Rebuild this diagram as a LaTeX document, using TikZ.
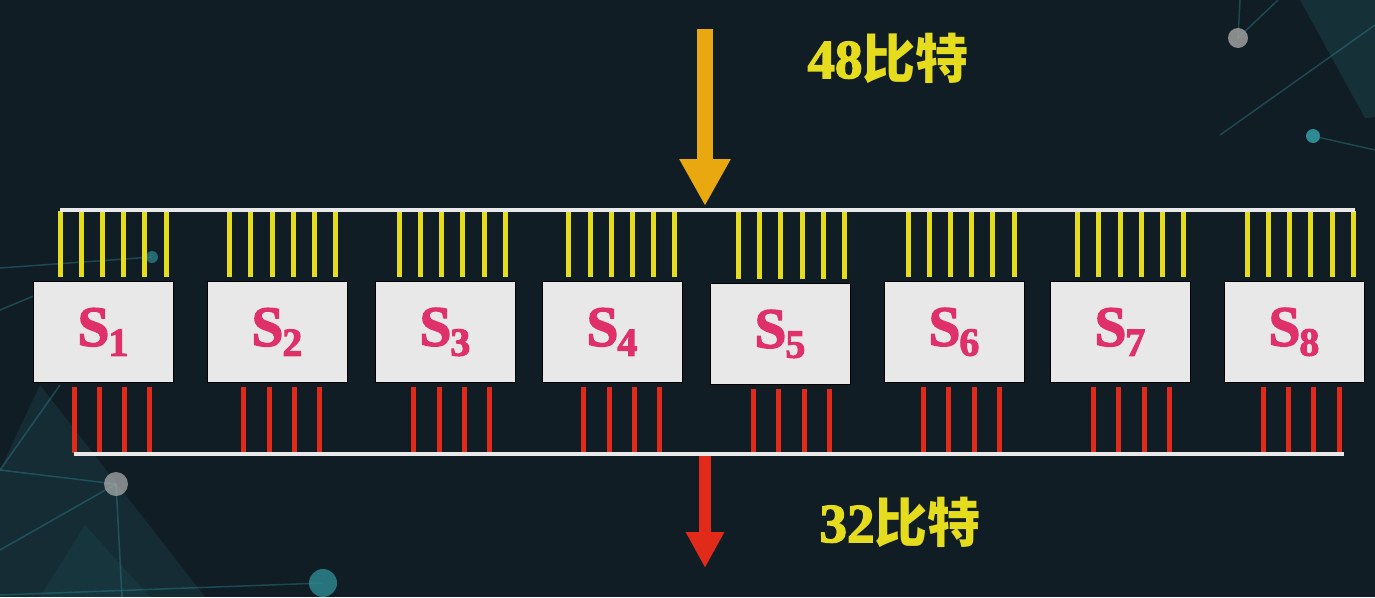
\documentclass[tikz,border=0pt]{standalone}
\usepackage{fontspec}
\setmainfont{Liberation Serif}
\newfontfamily\cjk{Noto Sans CJK SC}
\newfontfamily\bser{Liberation Serif Bold}[FakeBold=2.5]
\usetikzlibrary{arrows.meta,calc}
\definecolor{bgc}{HTML}{111D25}
\definecolor{boxc}{HTML}{E8E8E8}
\definecolor{yel}{HTML}{E6DC1E}
\definecolor{redl}{HTML}{E12A1A}
\definecolor{pinkc}{HTML}{E0306A}
\definecolor{oran}{HTML}{E9A810}
\definecolor{teal}{HTML}{2E8A93}
\tikzset{
  sbox/.style={draw=black, line width=1pt, fill=boxc, minimum width=140pt, minimum height=101pt, inner sep=0pt, text=pinkc},
  ywire/.style={draw=yel, line width=5pt},
  rwire/.style={draw=redl, line width=5pt},
  bus/.style={draw=boxc, line width=4pt},
  lbl/.style={text=yel, inner sep=0pt, font=\fontsize{55}{55}\bser},
  deco/.style={draw=teal, line width=1.5pt, opacity=0.4},
}
\newcommand{\sname}[1]{{\fontsize{57}{57}\bser S}\kern-1pt\raisebox{-10pt}{\fontsize{40}{40}\bser #1}}
\begin{document}
\begin{tikzpicture}[x=1pt,y=-1pt]
\useasboundingbox (0,0) rectangle (1375,597);
\fill[bgc] (0,0) rectangle (1375,597);
% background decoration
\fill[teal, opacity=0.18] (1300,0) -- (1375,0) -- (1375,117) -- (1365,118) -- cycle;
\fill[teal, opacity=0.14] (40,385) -- (205,597) -- (0,597) -- (0,470) -- cycle;
\fill[teal, opacity=0.10] (85,525) -- (150,597) -- (40,597) -- cycle;
\draw[deco] (1238,38) -- (1240,0);
\draw[deco] (1238,38) -- (1278,0);
\draw[deco] (1220,135) -- (1375,25);
\draw[deco] (1313,136) -- (1375,150);
\draw[deco] (0,268) -- (152,257);
\draw[deco] (0,310) -- (60,285);
\draw[deco] (0,470) -- (116,484);
\draw[deco] (0,550) -- (116,484);
\draw[deco] (116,484) -- (122,597);
\draw[deco] (60,385) -- (0,470);
\draw[deco] (0,595) -- (323,583);
\fill[gray!70, opacity=0.8] (1238,38) circle (10);
\fill[teal] (1313,136) circle (7);
\fill[teal, opacity=0.7] (152,257) circle (6);
\fill[gray!60, opacity=0.7] (116,484) circle (12);
\fill[teal, opacity=0.8] (323,583) circle (14);
% buses
\coordinate (tbL) at (60,210);
\coordinate (tbR) at (1355,210);
\coordinate (bbL) at (74,454);
\coordinate (bbR) at (1344,454);
% boxes
\foreach \cx [count=\i] in {103,277,445,612,780,954,1120,1294}{
  \pgfmathsetmacro{\cy}{\i==5 ? 334 : 332}
  \node[sbox] (s\i) at (\cx,\cy) {\sname{\i}};
}
\foreach \i in {1,...,8}{
  \foreach \j in {0,...,5}{
    \pgfmathsetmacro{\xx}{60+169.6*(\i-1)+21.2*\j}
    \draw[ywire] (\xx,211) -- ($(\xx,0 |- s\i.north)+(0,-4)$);
  }
  \foreach \j in {0,...,3}{
    \pgfmathsetmacro{\xx}{74+169.9*(\i-1)+25.3*\j}
    \draw[rwire] ($(\xx,0 |- s\i.south)+(0,4)$) -- (\xx,453);
  }
}
\draw[bus] (tbL) -- (tbR);
\draw[bus] (bbL) -- (bbR);
% arrows
\coordinate (inA) at (705,29);
\coordinate (inB) at (705,206);
\draw[draw=oran, line width=16pt, -{Triangle[width=48pt,length=47pt,fill=oran]}] (inA) -- (inB);
\coordinate (outA) at (705,456);
\coordinate (outB) at (705,568);
\draw[draw=redl, line width=12pt, -{Triangle[width=36pt,length=36pt,fill=redl]}] (outA) -- (outB);
% labels
\node[lbl] (lin) at (888,58) {48{\fontsize{53}{53}\cjk\bfseries 比特}};
\node[lbl] (lout) at (900,522) {32{\fontsize{53}{53}\cjk\bfseries 比特}};
\end{tikzpicture}
\end{document}
